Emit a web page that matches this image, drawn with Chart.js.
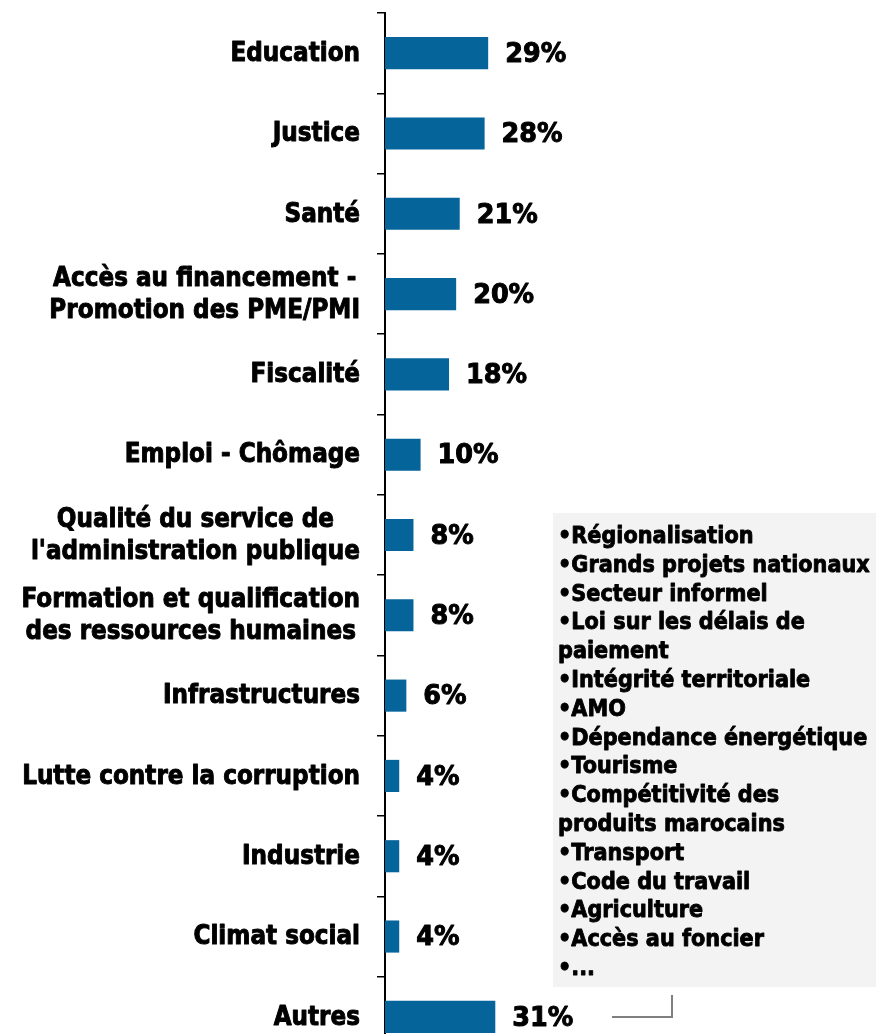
<!DOCTYPE html>
<html>
<head>
<meta charset="utf-8">
<script src="https://cdn.jsdelivr.net/npm/chart.js@4.4.1/dist/chart.umd.min.js"></script>
<style>
  html, body { margin: 0; padding: 0; background: #fff; overflow: hidden; }
  #wrap { position: relative; width: 876px; height: 1060px; }
</style>
</head>
<body>
<div id="wrap"><canvas id="chart"></canvas></div>
<script>
const categories = [
  ["Education"],
  ["Justice"],
  ["Santé"],
  ["Accès au financement -", "Promotion des PME/PMI"],
  ["Fiscalité"],
  ["Emploi - Chômage"],
  ["Qualité du service de", "l'administration publique"],
  ["Formation et qualification", "des ressources humaines"],
  ["Infrastructures"],
  ["Lutte contre la corruption"],
  ["Industrie"],
  ["Climat social"],
  ["Autres"],
];
const values = [29, 28, 21, 20, 18, 10, 8, 8, 6, 4, 4, 4, 31];
const autresItems = [
  "•Régionalisation",
  "•Grands projets nationaux",
  "•Secteur informel",
  "•Loi sur les délais de",
  "paiement",
  "•Intégrité territoriale",
  "•AMO",
  "•Dépendance énergétique",
  "•Tourisme",
  "•Compétitivité des",
  "produits marocains",
  "•Transport",
  "•Code du travail",
  "•Agriculture",
  "•Accès au foncier",
  "•...",
];

const FONT = "DejaVu Sans";

// heavy, slightly condensed text (Tahoma Bold look from DejaVu)
function heavyText(c, text, x, y, k, w) {
  c.save();
  c.translate(x, y);
  c.scale(k, 1);
  c.lineWidth = w;
  c.lineJoin = "round";
  c.strokeText(text, 0, 0);
  c.fillText(text, 0, 0);
  c.restore();
}

const labelsPlugin = {
  id: "labelsPlugin",
  afterDraw(chart) {
    const c = chart.ctx;
    const yScale = chart.scales.y;
    c.save();
    c.fillStyle = "#000";
    c.strokeStyle = "#000";
    c.textBaseline = "middle";

    // category labels: block right-aligned, lines centred inside the block
    const k = 0.89;
    c.font = "bold 26px '" + FONT + "'";
    c.textAlign = "center";
    categories.forEach((lines, i) => {
      const yc = yScale.getPixelForValue(i);
      const blockW = Math.max(...lines.map(l => c.measureText(l).width)) * k;
      const right = yScale.right - 25;
      const lh = 32;
      lines.forEach((l, j) => {
        const y = yc + (j - (lines.length - 1) / 2) * lh + 1;
        heavyText(c, l, right - blockW / 2, y, k, 1);
      });
    });

    // value labels
    c.font = "bold 26px '" + FONT + "'";
    c.textAlign = "left";
    const meta = chart.getDatasetMeta(0);
    meta.data.forEach((bar, i) => {
      heavyText(c, values[i] + "%", bar.x + 17, bar.y + 2, 0.98, 1);
    });

    // "Autres" detail box
    const bx = 553, by = 513, bw = 876 - 553, bh = 987 - 513;
    c.fillStyle = "#f3f3f3";
    c.fillRect(bx, by, bw, bh);
    c.fillStyle = "#000";
    c.font = "bold 23px '" + FONT + "'";
    autresItems.forEach((t, n) => {
      heavyText(c, t, bx + 5, 537 + n * 28.8, 0.905, 0.9);
    });

    // connector
    c.strokeStyle = "#7f7f7f";
    c.lineWidth = 2;
    c.beginPath();
    c.moveTo(612, 1017);
    c.lineTo(672, 1017);
    c.lineTo(672, 995);
    c.stroke();
    c.restore();
  }
};

new Chart(document.getElementById("chart"), {
  type: "bar",
  data: {
    labels: categories,
    datasets: [
      {
        data: values,
        backgroundColor: "#05649a",
        categoryPercentage: 1,
        barPercentage: 0.4,
      },
    ],
  },
  options: {
    indexAxis: "y",
    responsive: true,
    maintainAspectRatio: false,
    animation: false,
    events: [],
    layout: {
      padding: { top: 13, bottom: 3, left: 0, right: 0 },
    },
    plugins: {
      legend: { display: false },
      tooltip: { enabled: false },
    },
    scales: {
      x: {
        display: false,
        min: 0,
        max: 138,
      },
      y: {
        afterFit(scale) {
          scale.width = 385;
        },
        grid: {
          display: true,
          offset: true,
          drawOnChartArea: false,
          drawTicks: true,
          tickLength: 8,
          color: "#000",
          lineWidth: 1.5,
        },
        border: {
          display: true,
          color: "#000",
          width: 2,
        },
        ticks: {
          display: false,
        },
      },
    },
  },
  plugins: [labelsPlugin],
});
</script>
</body>
</html>
